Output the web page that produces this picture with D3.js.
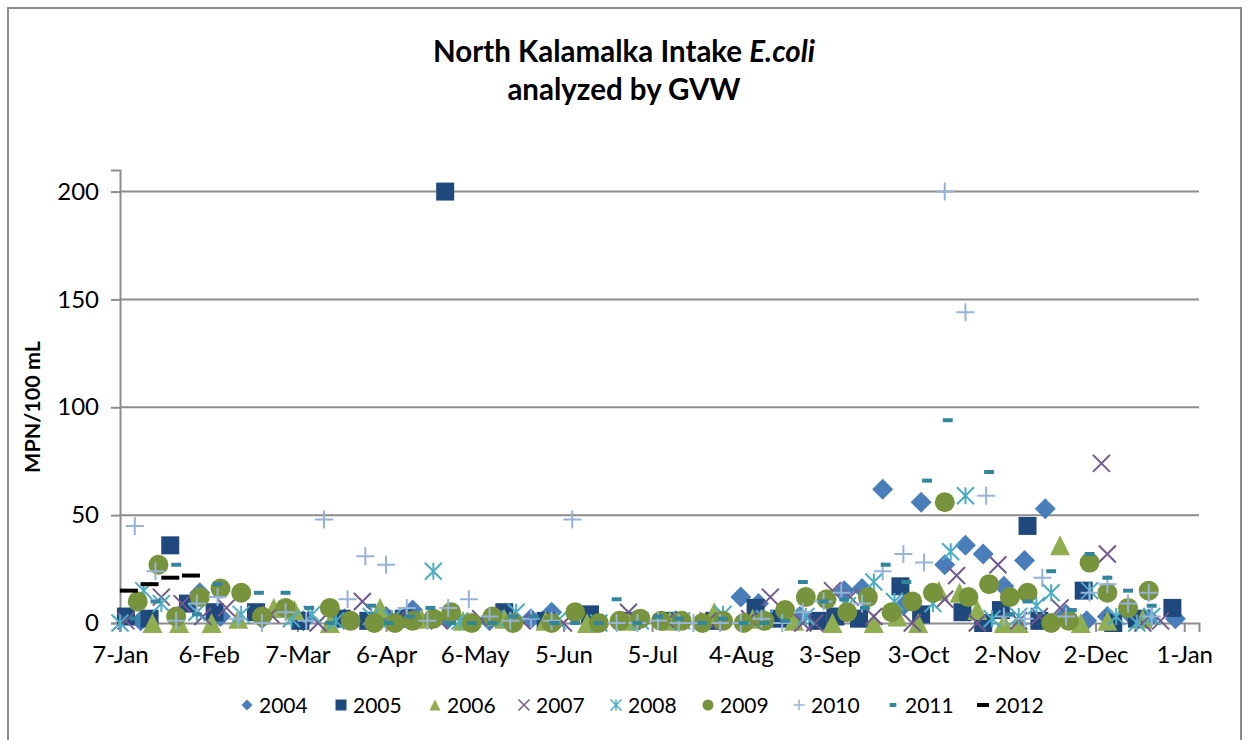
<!DOCTYPE html>
<html lang="en">
<script src="https://d3js.org/d3.v7.min.js"></script>
<style>
    body {margin: 0; background: white;}
    svg text {font-family: Lato, "Open Sans", sans-serif; fill: black;}
    .grid line {stroke: #8c8c8c; stroke-width: 2;}
    .axis line, .axis path {stroke: #8c8c8c; stroke-width: 2;}
</style>
<body>
    <svg width="1249" height="740"></svg>
</body>
<script>
    // sample dates are month-day, plotted on one (leap) year
    var y2004 = [["01-14",1],["02-03",14],["02-10",3],["02-24",2],["03-09",1],["03-23",2],["04-06",3],["04-15",6],["04-27",2],["05-11",1],["05-25",2],["06-01",5],["06-15",1],["06-29",1],["07-13",1],["07-27",2],["08-04",12],["08-10",9],["08-24",3],["09-08",15],["09-14",16],["09-21",62],["09-28",8],["10-04",56],["10-12",27],["10-19",36],["10-25",32],["11-01",17],["11-08",29],["11-15",53],["11-22",4],["11-29",1],["12-06",3],["12-13",5],["12-20",2],["12-29",2]];
    var y2005 = [["01-09",3],["01-17",2],["01-24",36],["01-30",9],["02-08",5],["02-22",5],["03-08",1],["03-22",2],["03-31",1],["04-12",2],["04-26",200],["05-16",5],["05-30",1],["06-14",4],["06-28",1],["07-12",1],["07-26",1],["08-09",7],["08-17",2],["08-30",1],["09-05",3],["09-13",2],["09-27",17],["10-04",4],["10-18",5],["10-25",0],["10-31",6],["11-09",45],["11-13",1],["11-28",15],["12-08",0],["12-16",2],["12-28",7]];
    var y2006 = [["01-18",0],["01-27",0],["02-07",0],["02-16",2],["02-28",7],["03-06",6],["03-18",0],["04-04",7],["04-18",2],["05-02",1],["05-16",2],["05-30",1],["06-13",0],["06-27",1],["07-11",1],["07-26",5],["08-08",2],["08-22",1],["09-04",0],["09-18",0],["09-26",3],["10-03",0],["10-10",15],["10-17",14],["10-23",6],["11-01",0],["11-06",0],["11-20",36],["11-27",0],["12-06",1],["12-18",2]];
    var y2007 = [["01-09",1],["01-21",12],["01-28",9],["02-04",3],["02-12",7],["02-27",4],["03-14",0],["03-29",10],["04-10",2],["04-24",1],["05-08",2],["05-22",1],["06-05",0],["06-27",5],["07-10",1],["07-24",1],["08-07",2],["08-14",12],["08-25",0],["08-29",0],["09-04",15],["09-10",12],["09-18",3],["10-01",0],["10-12",11],["10-16",22],["10-23",0],["10-30",27],["11-06",1],["11-13",3],["11-20",7],["12-04",74],["12-06",32],["12-18",0],["12-24",1]];
    var y2008 = [["01-07",0],["01-15",15],["01-21",9],["02-02",5],["02-17",4],["03-05",2],["03-12",4],["03-20",1],["04-01",3],["04-08",2],["04-22",24],["05-01",1],["05-13",2],["05-20",5],["06-03",1],["06-17",0],["07-01",1],["07-15",1],["07-29",4],["08-12",2],["08-26",3],["09-09",8],["09-18",19],["09-25",10],["10-08",9],["10-14",33],["10-19",59],["10-28",2],["11-06",3],["11-12",8],["11-17",14],["11-30",15],["12-09",3],["12-16",0],["12-21",3]];
    var y2009 = [["01-13",10],["01-20",27],["01-26",3],["02-03",12],["02-10",16],["02-17",14],["02-24",3],["03-03",7],["03-18",7],["03-25",1],["04-02",0],["04-09",0],["04-15",1],["04-22",2],["04-28",5],["05-05",0],["05-12",3],["05-19",0],["06-01",0],["06-09",5],["06-17",0],["06-24",1],["07-01",2],["07-08",1],["07-15",1],["07-22",0],["07-29",1],["08-05",0],["08-12",1],["08-19",6],["08-26",12],["09-02",11],["09-09",5],["09-16",12],["09-24",5],["10-01",10],["10-08",14],["10-12",56],["10-20",12],["10-27",18],["11-03",12],["11-09",14],["11-17",0],["11-23",1],["11-30",28],["12-06",14],["12-13",7],["12-20",15]];
    var y2010 = [["01-12",45],["01-19",24],["01-26",1],["02-02",9],["02-09",12],["02-16",2],["02-24",0],["03-03",5],["03-10",1],["03-16",48],["03-24",11],["03-30",31],["04-06",27],["04-13",7],["04-20",1],["04-27",7],["05-04",11],["05-11",3],["05-18",1],["05-25",2],["06-01",1],["06-08",48],["06-23",0],["06-30",0],["07-07",1],["07-14",0],["07-19",0],["07-28",0],["08-04",0],["08-11",2],["08-18",0],["08-25",5],["09-01",10],["09-07",14],["09-14",9],["09-21",24],["09-28",32],["10-05",28],["10-12",200],["10-19",144],["10-26",59],["11-01",3],["11-08",2],["11-14",21],["11-22",3],["11-30",14],["12-06",18],["12-13",9],["12-20",14],["12-21",3]];
    var y2011 = [["01-12",2],["01-19",10],["01-26",27],["02-02",4],["02-09",18],["02-23",14],["03-03",14],["03-11",7],["03-18",0],["04-01",8],["04-07",0],["04-14",3],["04-21",7],["04-28",0],["05-05",0],["05-12",0],["05-19",3],["05-26",3],["06-02",0],["06-09",0],["06-17",0],["06-23",11],["06-30",0],["07-07",3],["07-14",2],["07-22",0],["07-29",2],["08-05",0],["08-12",0],["08-19",1],["08-25",19],["09-01",10],["09-08",11],["09-15",7],["09-22",27],["09-29",19],["10-06",66],["10-13",94],["10-27",70],["11-03",4],["11-09",10],["11-17",24],["11-24",6],["11-30",32],["12-06",21],["12-13",15],["12-21",8]];
    var y2012 = [["01-10",15],["01-17",18],["01-24",21],["01-31",22]];

    var seriesNames = ["2004","2005","2006","2007","2008","2009","2010","2011","2012"];
    var seriesData = [y2004,y2005,y2006,y2007,y2008,y2009,y2010,y2011,y2012];
    var seriesColors = ["#4a7ebb","#1f497d","#8fae50","#71588f","#4aacc5","#77933c","#95b3d7","#31859c","#000000"];
    var seriesMarkers = ["diamond","square","triangle","x","star","circle","plus","dash","longdash"];

    var xTicks = ["2012-01-07","2012-02-06","2012-03-07","2012-04-06","2012-05-06","2012-06-05","2012-07-05","2012-08-04","2012-09-03","2012-10-03","2012-11-02","2012-12-02","2013-01-01"];
    var yTicks = [0,50,100,150,200];

    var svg = d3.select("svg");
    var parseDay = d3.timeParse("%Y-%m-%d");

    var x = d3.scaleTime()
        .domain([parseDay("2012-01-07"), parseDay("2013-01-06")])
        .range([120, 1199]);
    var y = d3.scaleLinear().domain([0, 210]).range([623, 170]);

    // chart border
    svg.append("rect").attr("x", 8).attr("y", 8).attr("width", 1233).attr("height", 760)
        .attr("fill", "none").attr("stroke", "#8c8c8c").attr("stroke-width", 2);

    // title
    var title = svg.append("text").attr("text-anchor", "middle").attr("font-weight", "bold").attr("font-size", 29.5);
    title.append("tspan").attr("x", 624).attr("y", 62).text("North Kalamalka Intake ");
    title.append("tspan").attr("font-style", "italic").text("E.coli");
    title.append("tspan").attr("x", 624).attr("y", 100).text("analyzed by GVW");

    // gridlines
    svg.append("g").attr("class", "grid").selectAll("line").data(yTicks.slice(1)).enter().append("line")
        .attr("x1", 120).attr("x2", 1199)
        .attr("y1", function(d){return y(d);}).attr("y2", function(d){return y(d);});

    svg.append("g").attr("class", "axis").attr("transform", "translate(0," + y(0) + ")")
        .call(d3.axisBottom(x).tickValues(xTicks.map(parseDay)).tickFormat(d3.timeFormat("%-d-%b")).tickSizeOuter(0).tickSize(9).tickPadding(14));
    svg.append("g").attr("class", "axis").attr("transform", "translate(120,0)")
        .call(d3.axisLeft(y).tickValues(yTicks).tickSizeOuter(0).tickSize(9).tickPadding(12));
    svg.selectAll(".axis text").attr("font-family", "Lato").attr("font-size", 24).attr("fill", "black");

    svg.append("text").attr("transform", "translate(40,407) rotate(-90)")
        .attr("text-anchor", "middle").attr("font-weight", "bold").attr("font-size", 21.5)
        .text("MPN/100 mL");

    function markerPath(type, s){
        var r = s / 2;
        if(type == "diamond") return "M0," + (-r) + "L" + r + ",0L0," + r + "L" + (-r) + ",0Z";
        if(type == "square") return "M" + (-r) + "," + (-r) + "h" + s + "v" + s + "h" + (-s) + "Z";
        if(type == "triangle") return "M0," + (-r) + "L" + r + "," + r + "L" + (-r) + "," + r + "Z";
        if(type == "x") return "M" + (-r) + "," + (-r) + "L" + r + "," + r + "M" + r + "," + (-r) + "L" + (-r) + "," + r;
        if(type == "star") return "M" + (-r) + "," + (-r) + "L" + r + "," + r + "M" + r + "," + (-r) + "L" + (-r) + "," + r + "M0," + (-r) + "V" + r;
        if(type == "plus") return "M" + (-r) + ",0H" + r + "M0," + (-r) + "V" + r;
        if(type == "circle") return d3.symbol().type(d3.symbolCircle).size(Math.PI * r * r)();
        if(type == "dash") return "M" + (-r * 0.55) + ",-2h" + (s * 0.55) + "v4h" + (-s * 0.55) + "Z";
        if(type == "longdash") return "M" + (-r) + ",-2h" + s + "v4h" + (-s) + "Z";
    }

    function isStroke(type){ return type == "x" || type == "star" || type == "plus"; }

    var markerSize = {diamond: 21, square: 18, triangle: 20, x: 17, star: 17, plus: 18, circle: 20, dash: 18, longdash: 18};

    seriesData.forEach(function(data, i){
        var type = seriesMarkers[i];
        svg.append("g").selectAll("path").data(data).enter().append("path")
            .attr("transform", function(d){return "translate(" + x(parseDay("2012-" + d[0])) + "," + y(d[1]) + ")";})
            .attr("d", markerPath(type, markerSize[type]))
            .attr("fill", isStroke(type) ? "none" : seriesColors[i])
            .attr("stroke", isStroke(type) ? seriesColors[i] : "none")
            .attr("stroke-width", 2);
    });

    // legend
    var legendX = [247, 341, 435, 524, 616, 708, 799, 893, 983];
    var legend = svg.append("g").selectAll("g").data(seriesNames).enter().append("g")
        .attr("transform", function(d, i){return "translate(" + legendX[i] + ",705)";});
    legend.append("path")
        .attr("d", function(d, i){
            var type = seriesMarkers[i];
            var s = type == "longdash" ? 12 : (type == "dash" ? 12 : 11);
            return markerPath(type, s);
        })
        .attr("fill", function(d, i){return isStroke(seriesMarkers[i]) ? "none" : seriesColors[i];})
        .attr("stroke", function(d, i){return isStroke(seriesMarkers[i]) ? seriesColors[i] : "none";})
        .attr("stroke-width", 1.5);
    legend.append("text").attr("x", 12).attr("y", 8).attr("font-size", 21).text(function(d){return d;});
</script>
</html>
